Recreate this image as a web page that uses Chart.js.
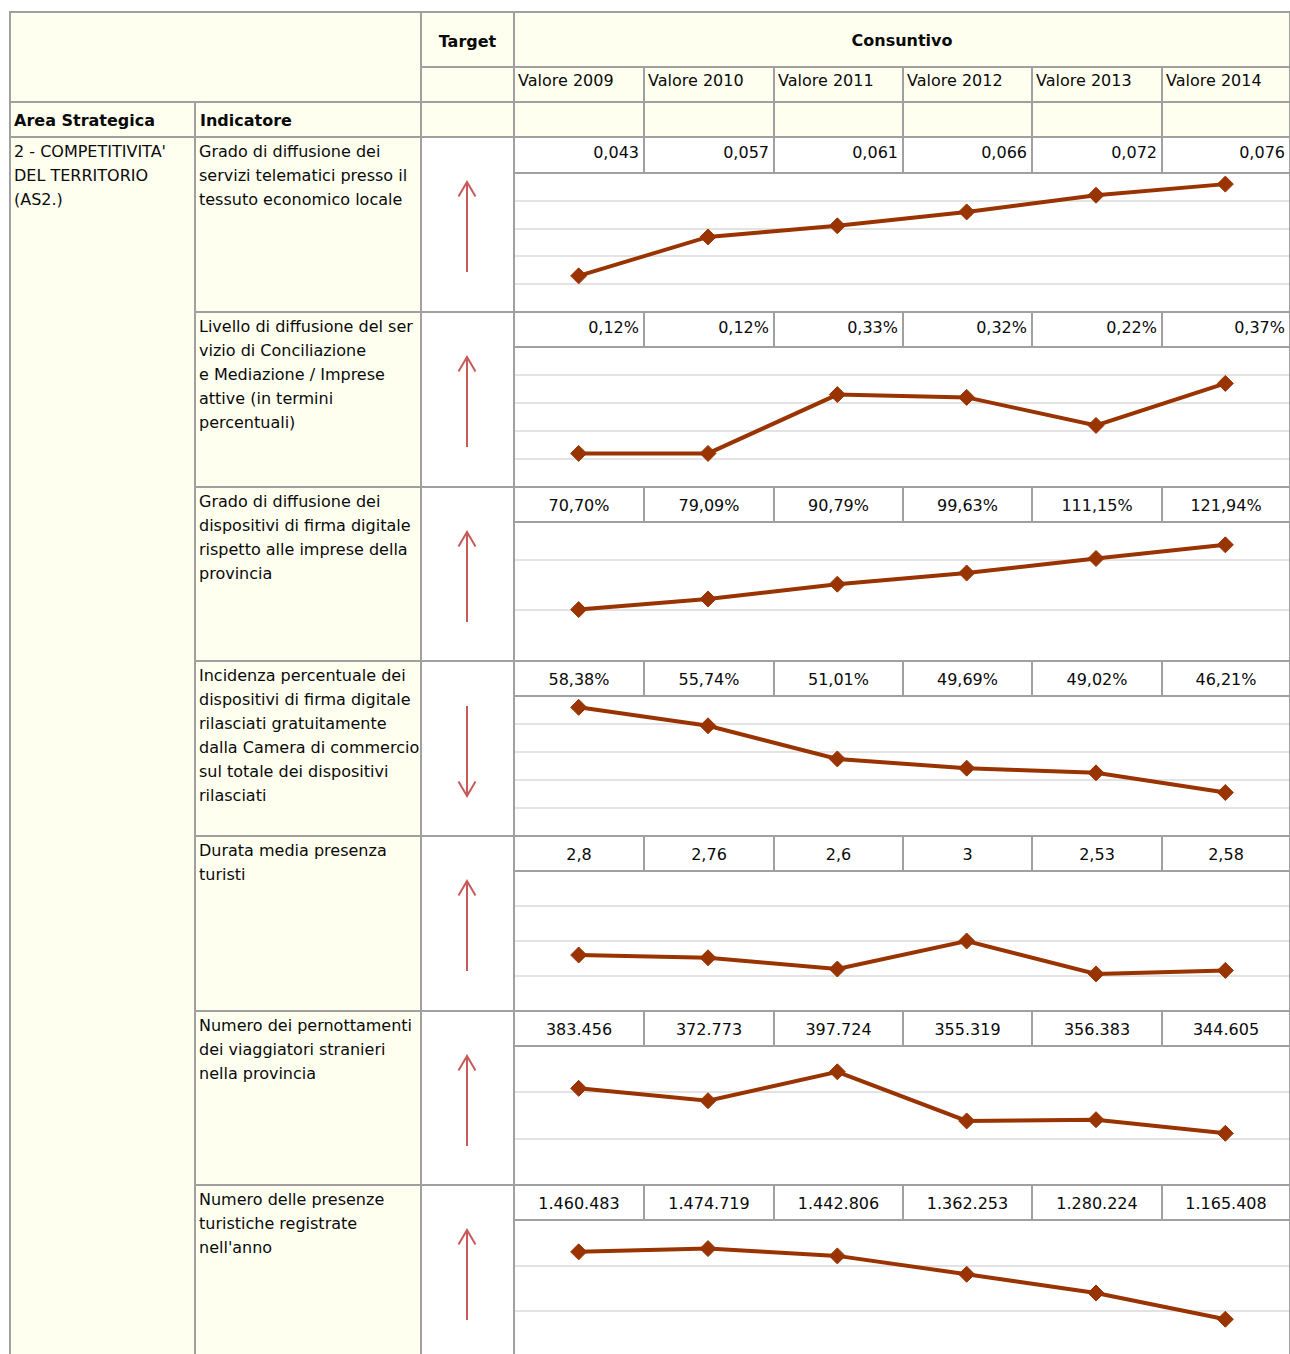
<!DOCTYPE html>
<html lang="it">
<head>
<meta charset="utf-8">
<title>Area Strategica 2 - Competitività del territorio</title>
<script src="https://cdn.jsdelivr.net/npm/chart.js@4.4.0/dist/chart.umd.min.js"></script>
<style>
  html, body { margin: 0; padding: 0; background: #fff; overflow: hidden; width: 1290px; height: 1354px; }
  #sheet { position: relative; width: 1290px; height: 1354px; font-family: "DejaVu Sans", sans-serif; font-size: 16px; color: #0a0a0a; }
  .c { position: absolute; box-sizing: border-box; border: 2px solid #a0a0a0; background: #fffff0; white-space: nowrap; line-height: 24px; overflow: hidden; z-index: 2; }
  .w { background: #fff; }
  .frame { background: transparent; z-index: 3; }
  .b { font-weight: bold; }
  .plot { position: absolute; z-index: 1; background: #fff; overflow: hidden; }
  svg.arrow { position: absolute; z-index: 4; overflow: visible; }
</style>
</head>
<body>
<div id="sheet"></div>
<script>
// ---- data ----
const years = ['2009', '2010', '2011', '2012', '2013', '2014'];
const colHeaders = years.map(y => 'Valore ' + y);

const serviziTelematici = [0.043, 0.057, 0.061, 0.066, 0.072, 0.076];
const conciliazione = [0.12, 0.12, 0.33, 0.32, 0.22, 0.37];          // %
const firmaDiffusione = [70.70, 79.09, 90.79, 99.63, 111.15, 121.94]; // %
const firmaGratuita = [58.38, 55.74, 51.01, 49.69, 49.02, 46.21];     // %
const durataPresenza = [2.8, 2.76, 2.6, 3, 2.53, 2.58];
const pernottamentiStranieri = [383456, 372773, 397724, 355319, 356383, 344605];
const presenzeTuristiche = [1460483, 1474719, 1442806, 1362253, 1280224, 1165408];

// y-axis gridline values of each small chart (first = bottom, last = top)
const ticksTelematici = [0.03, 0.04, 0.05, 0.06, 0.07, 0.08];
const ticksConciliazione = [0, 0.1, 0.2, 0.3, 0.4, 0.5];
const ticksFirmaDiff = [30, 70, 110, 140];
const ticksFirmaGrat = [40, 44, 48, 52, 56, 60];
const ticksDurata = [2, 2.5, 3, 3.5, 4];
const ticksPernott = [300000, 340000, 380000, 420000];
const ticksPresenze = [1000000, 1200000, 1400000, 1600000];

const areaLines = ["2 - COMPETITIVITA'", 'DEL TERRITORIO', '(AS2.)'];

const indicatori = [
  ['Grado di diffusione dei', 'servizi telematici presso il', 'tessuto economico locale'],
  ['Livello di diffusione del ser', 'vizio di Conciliazione', 'e Mediazione / Imprese', 'attive (in termini', 'percentuali)'],
  ['Grado di diffusione dei', 'dispositivi di firma digitale', 'rispetto alle imprese della', 'provincia'],
  ['Incidenza percentuale dei', 'dispositivi di firma digitale', 'rilasciati gratuitamente', 'dalla Camera di commercio', 'sul totale dei dispositivi', 'rilasciati'],
  ['Durata media presenza', 'turisti'],
  ['Numero dei pernottamenti', 'dei viaggiatori stranieri', 'nella provincia'],
  ['Numero delle presenze', 'turistiche registrate', "nell'anno"]
];
const targets = ['up', 'up', 'up', 'down', 'up', 'up', 'up'];

const seriesList = [serviziTelematici, conciliazione, firmaDiffusione, firmaGratuita, durataPresenza, pernottamentiStranieri, presenzeTuristiche];
const ticksList = [ticksTelematici, ticksConciliazione, ticksFirmaDiff, ticksFirmaGrat, ticksDurata, ticksPernott, ticksPresenze];

// number display per row: decimals (null = as is), percent sign, alignment
const display = [
  { dec: 3, pct: false, align: 'right' },
  { dec: 2, pct: true, align: 'right' },
  { dec: 2, pct: true, align: 'center' },
  { dec: 2, pct: true, align: 'center' },
  { dec: null, pct: false, align: 'center' },
  { dec: 0, pct: false, align: 'center' },
  { dec: 0, pct: false, align: 'center' }
];

// ---- layout ----
const colX = [10, 195, 421, 514, 644, 774, 903, 1032, 1162, 1290];
const headTop = 12, headMid = 67, headBottom = 102, subBottom = 137;
const rowTop = [137, 312, 487, 661, 836, 1011, 1185];
const tableBottom = 1362;
const valueRowH = [36, 35, 35, 35, 35, 35, 35];

const sheet = document.getElementById('sheet');

function cell(x0, y0, x1, y1, cls, html, css) {
  const d = document.createElement('div');
  d.className = 'c ' + (cls || '');
  d.style.left = (x0 - 1) + 'px';
  d.style.top = (y0 - 1) + 'px';
  d.style.width = (x1 - x0 + 2) + 'px';
  d.style.height = (y1 - y0 + 2) + 'px';
  if (css) Object.assign(d.style, css);
  if (html) d.innerHTML = html;
  sheet.appendChild(d);
  return d;
}

function fmt(v, dec, pct) {
  const s = dec == null ? String(v) : v.toFixed(dec);
  let [i, f] = s.split('.');
  i = i.replace(/\B(?=(\d{3})+(?!\d))/g, '.');
  return i + (f ? ',' + f : '') + (pct ? '%' : '');
}

// header block
cell(colX[0], headTop, colX[2], headBottom);
cell(colX[2], headTop, colX[3], headMid, 'b', 'Target', { textAlign: 'center', lineHeight: (headMid - headTop + 3) + 'px' });
cell(colX[3], headTop, colX[9], headMid, 'b', 'Consuntivo', { textAlign: 'center', lineHeight: (headMid - headTop + 1) + 'px' });
cell(colX[2], headMid, colX[3], headBottom);
colHeaders.forEach((h, i) => cell(colX[3 + i], headMid, colX[4 + i], headBottom, '', h, { paddingLeft: '3px', paddingTop: '1px' }));
cell(colX[0], headBottom, colX[1], subBottom, 'b', 'Area Strategica', { paddingLeft: '3px', paddingTop: '6px' });
cell(colX[1], headBottom, colX[2], subBottom, 'b', 'Indicatore', { paddingLeft: '4px', paddingTop: '6px' });
cell(colX[2], headBottom, colX[3], subBottom);
years.forEach((y, i) => cell(colX[3 + i], headBottom, colX[4 + i], subBottom));

// strategic area column
cell(colX[0], subBottom, colX[1], tableBottom, '', areaLines.join('<br>'), { paddingLeft: '3px', paddingTop: '2px' });

const charts = [];
indicatori.forEach((lines, r) => {
  const top = rowTop[r];
  const bottom = r + 1 < rowTop.length ? rowTop[r + 1] : tableBottom;
  const vb = top + valueRowH[r];
  const disp = display[r];
  const vals = seriesList[r];

  cell(colX[1], top, colX[2], bottom, '', lines.join('<br>'), { paddingLeft: '3px', paddingTop: '2px' });
  cell(colX[2], top, colX[3], bottom, 'w');

  // target arrow
  const ns = 'http://www.w3.org/2000/svg';
  const svg = document.createElementNS(ns, 'svg');
  svg.setAttribute('class', 'arrow');
  svg.setAttribute('width', '93');
  svg.setAttribute('height', '175');
  svg.style.left = colX[2] + 'px';
  svg.style.top = top + 'px';
  const tipY = targets[r] === 'up' ? 45 : 135;
  const tailY = targets[r] === 'up' ? 135 : 45;
  const headY = targets[r] === 'up' ? tipY + 14.5 : tipY - 14.5;
  svg.innerHTML =
    '<line x1="46" y1="' + tailY + '" x2="46" y2="' + tipY + '" stroke="#c85a5a" stroke-width="2"/>' +
    '<polyline points="37.5,' + headY + ' 46,' + tipY + ' 54.5,' + headY + '" fill="none" stroke="#c85a5a" stroke-width="2"/>';
  sheet.appendChild(svg);

  // value cells
  vals.forEach((v, i) => {
    const css = { textAlign: disp.align };
    if (disp.align === 'right') { css.paddingRight = '4px'; css.paddingTop = '3px'; }
    else { css.lineHeight = (vb - top) + 'px'; }
    cell(colX[3 + i], top, colX[4 + i], vb, 'w', fmt(v, disp.dec, disp.pct), css);
  });

  // chart frame + canvas
  cell(colX[3], vb, colX[9], bottom, 'frame');
  const holder = document.createElement('div');
  holder.className = 'plot';
  holder.style.left = colX[3] + 'px';
  holder.style.top = vb + 'px';
  holder.style.width = (colX[9] - colX[3]) + 'px';
  holder.style.height = (bottom - vb) + 'px';
  const cv = document.createElement('canvas');
  cv.width = colX[9] - colX[3];
  cv.height = r === rowTop.length - 1 ? 137 : bottom - vb;
  holder.appendChild(cv);
  sheet.appendChild(holder);

  const ticks = ticksList[r];
  charts.push(new Chart(cv, {
    type: 'line',
    data: {
      labels: years,
      datasets: [{
        data: vals,
        borderColor: '#993300',
        backgroundColor: '#993300',
        borderWidth: 4,
        tension: 0,
        pointStyle: 'rectRot',
        pointRadius: 8,
        pointBorderWidth: 1,
        pointBackgroundColor: '#993300',
        pointBorderColor: '#993300',
        clip: false
      }]
    },
    options: {
      responsive: false,
      animation: false,
      devicePixelRatio: 1,
      layout: { autoPadding: false, padding: 0 },
      plugins: { legend: { display: false }, tooltip: { enabled: false } },
      scales: {
        x: {
          offset: true,
          grid: { display: false, drawTicks: false },
          ticks: { display: false },
          border: { display: false }
        },
        y: {
          min: ticks[0],
          max: ticks[ticks.length - 1],
          grid: { color: '#e3e3e3', lineWidth: 2, drawTicks: false },
          ticks: { display: false },
          border: { display: false },
          afterBuildTicks: scale => { scale.ticks = ticks.map(v => ({ value: v })); }
        }
      }
    }
  }));
});
</script>
</body>
</html>
